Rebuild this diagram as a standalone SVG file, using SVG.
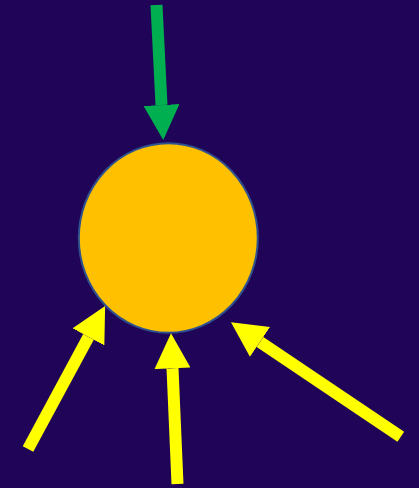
<svg xmlns="http://www.w3.org/2000/svg" width="419" height="488" viewBox="0 0 419 488">
<style>
.sg{stroke:#00B050;stroke-width:12;fill:none}
.sy{stroke:#FFFF00;stroke-width:12;fill:none}
</style>
<defs>
<marker id="hg" viewBox="0 0 35 36" refX="0" refY="18" markerWidth="35" markerHeight="36" markerUnits="userSpaceOnUse" orient="auto"><path d="M0,0 L35,18 L0,36 z" fill="#00B050"/></marker>
<marker id="hy" viewBox="0 0 35 36" refX="0" refY="18" markerWidth="35" markerHeight="36" markerUnits="userSpaceOnUse" orient="auto"><path d="M0,0 L35,18 L0,36 z" fill="#FFFF00"/></marker>
</defs>
<rect width="419" height="488" fill="#1F0458"/>
<g id="node-circle">
<ellipse cx="168.3" cy="238" rx="89.5" ry="94.8" fill="#FFC000" stroke="#2F528F" stroke-width="2"/>
</g>
<g id="connectors">
<line class="sg" x1="156.5" y1="5" x2="161.5" y2="105" marker-end="url(#hg)"/>
<line class="sy" x1="28" y1="449" x2="88.5" y2="336.9" marker-end="url(#hy)"/>
<line class="sy" x1="177.5" y1="484" x2="172.5" y2="368.3" marker-end="url(#hy)"/>
<line class="sy" x1="400.8" y1="436.7" x2="260" y2="341.9" marker-end="url(#hy)"/>
</g>
</svg>
